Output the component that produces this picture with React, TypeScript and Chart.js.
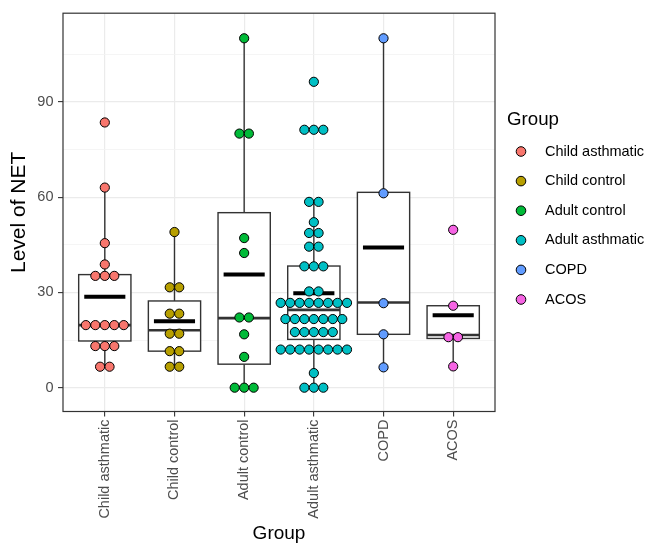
import React, { useEffect, useRef } from 'react';
import { Chart, registerables } from 'chart.js';

Chart.register(...registerables);

const FONT = "'Liberation Sans', Arial, Helvetica, sans-serif";

// Categories and colours
const groups = ['Child asthmatic', 'Child control', 'Adult control', 'Adult asthmatic', 'COPD', 'ACOS'];
const colors = ['#F8766D', '#B79F00', '#00BA38', '#00BFC4', '#619CFF', '#F564E3'];

// Individual observations (level of NET), one list per group
const childAsthmatic = [83.5, 63.0, 45.5, 38.8, 35.2, 35.2, 35.2, 19.7, 19.7, 19.7, 19.7, 19.7, 13.1, 13.1, 13.1, 6.6, 6.6];
const childControl = [49.0, 31.6, 31.6, 23.3, 23.3, 17.0, 17.0, 11.5, 11.5, 6.6, 6.6];
const adultControl = [110, 80, 80, 47.1, 42.4, 22.1, 22.1, 16.8, 9.7, 0, 0, 0];
const adultAsthmatic = [
  96.3, 81.2, 81.2, 81.2, 58.5, 58.5, 52.1, 48.7, 48.7, 44.4, 44.4, 38.2, 38.2, 38.2, 30.3, 30.3,
  26.7, 26.7, 26.7, 26.7, 26.7, 26.7, 26.7, 26.7,
  21.6, 21.6, 21.6, 21.6, 21.6, 21.6, 21.6,
  17.5, 17.5, 17.5, 17.5, 17.5,
  12.0, 12.0, 12.0, 12.0, 12.0, 12.0, 12.0, 12.0,
  4.6, 0, 0, 0,
];
const copd = [110, 61.2, 26.6, 16.8, 6.4];
const acos = [49.7, 25.8, 15.9, 15.9, 6.7];
const groupValues = [childAsthmatic, childControl, adultControl, adultAsthmatic, copd, acos];

// Box-plot summaries
const q1 = [14.7, 11.5, 7.4, 15.2, 16.8, 15.5];
const medians = [19.7, 18.1, 21.9, 24.5, 26.8, 16.6];
const q3 = [35.6, 27.3, 55.1, 38.3, 61.5, 25.8];
const means = [28.6, 20.9, 35.6, 29.7, 44.1, 22.8];
const whiskerLow = [6.6, 6.6, 0, 0, 6.4, 6.7];
const whiskerHigh = [63.0, 49.0, 110, 58.5, 110, 25.8];

// Axis ticks
const yLabelTicks = [0, 30, 60, 90];
const yGridTicks = [0, 15, 30, 45, 60, 75, 90, 105];

const DOT_STEP = 0.136; // horizontal dot spacing (x units)
const BOX_HALF = 0.375;
const MEAN_HALF = 0.295;

function dotPoints(values: number[], center: number) {
  const counts = new Map<number, number>();
  values.forEach((v) => counts.set(v, (counts.get(v) || 0) + 1));
  const seen = new Map<number, number>();
  return values.map((v) => {
    const n = counts.get(v) as number;
    const k = seen.get(v) || 0;
    seen.set(v, k + 1);
    return { x: center + (k - (n - 1) / 2) * DOT_STEP, y: v };
  });
}

const boxPlugin = {
  id: 'boxes',
  beforeDatasetsDraw(chart: any) {
    const { ctx, scales } = chart;
    const x = scales.x;
    const y = scales.y;
    ctx.save();
    groups.forEach((_, i) => {
      const c = i + 1;
      const cx = x.getPixelForValue(c);
      const l = x.getPixelForValue(c - BOX_HALF);
      const r = x.getPixelForValue(c + BOX_HALF);
      const top = y.getPixelForValue(q3[i]);
      const bot = y.getPixelForValue(q1[i]);
      ctx.strokeStyle = '#333333';
      ctx.lineWidth = 1.4;
      ctx.beginPath();
      ctx.moveTo(cx, y.getPixelForValue(whiskerHigh[i]));
      ctx.lineTo(cx, top);
      ctx.moveTo(cx, bot);
      ctx.lineTo(cx, y.getPixelForValue(whiskerLow[i]));
      ctx.stroke();
      ctx.fillStyle = '#ffffff';
      ctx.fillRect(l, top, r - l, bot - top);
      ctx.strokeRect(l, top, r - l, bot - top);
      const my = y.getPixelForValue(medians[i]);
      ctx.lineWidth = 2.6;
      ctx.beginPath();
      ctx.moveTo(l, my);
      ctx.lineTo(r, my);
      ctx.stroke();
      const mean = y.getPixelForValue(means[i]);
      ctx.strokeStyle = '#000000';
      ctx.lineWidth = 4;
      ctx.beginPath();
      ctx.moveTo(x.getPixelForValue(c - MEAN_HALF), mean);
      ctx.lineTo(x.getPixelForValue(c + MEAN_HALF), mean);
      ctx.stroke();
    });
    ctx.restore();
  },
  afterDatasetsDraw(chart: any) {
    const { ctx, chartArea } = chart;
    ctx.save();
    ctx.strokeStyle = '#333333';
    ctx.lineWidth = 1.2;
    ctx.strokeRect(chartArea.left, chartArea.top, chartArea.right - chartArea.left, chartArea.bottom - chartArea.top);
    ctx.restore();
  },
  afterDraw(chart: any) {
    const { ctx, chartArea } = chart;
    const lx = chartArea.right + 12;
    ctx.save();
    ctx.fillStyle = '#000000';
    ctx.font = `18.7px ${FONT}`;
    ctx.textBaseline = 'alphabetic';
    ctx.textAlign = 'left';
    ctx.fillText('Group', lx, 125);
    ctx.font = `14.5px ${FONT}`;
    ctx.textBaseline = 'middle';
    groups.forEach((g, i) => {
      const cy = 151.5 + i * 29.6;
      ctx.beginPath();
      ctx.arc(lx + 14, cy, 4.8, 0, Math.PI * 2);
      ctx.fillStyle = colors[i];
      ctx.fill();
      ctx.lineWidth = 1;
      ctx.strokeStyle = '#000000';
      ctx.stroke();
      ctx.fillStyle = '#000000';
      ctx.fillText(g, lx + 38, cy);
    });
    ctx.restore();
  },
};

export default function App() {
  const ref = useRef<HTMLCanvasElement | null>(null);
  useEffect(() => {
    document.body.style.margin = '0';
    const canvas = ref.current;
    if (!canvas) return;
    Chart.defaults.font.family = FONT;
    const chart = new Chart(canvas, {
      type: 'scatter',
      data: {
        datasets: groups.map((g, i) => ({
          label: g,
          data: dotPoints(groupValues[i], i + 1),
          backgroundColor: colors[i],
          borderColor: '#000000',
          borderWidth: 1,
          pointRadius: 4.6,
          pointHoverRadius: 4.6,
        })),
      },
      options: {
        animation: false,
        responsive: false,
        devicePixelRatio: 1,
        layout: { padding: { top: 10, right: 153, left: 0, bottom: 0 } },
        plugins: { legend: { display: false }, tooltip: { enabled: false } },
        scales: {
          x: {
            type: 'linear',
            min: 0.4,
            max: 6.6,
            afterBuildTicks: (s: any) => {
              s.ticks = groups.map((_, i) => ({ value: i + 1 }));
            },
            afterFit: (s: any) => {
              s.height = 133.5;
            },
            ticks: {
              callback: (v: any) => groups[Math.round(v) - 1] ?? '',
              minRotation: 90,
              maxRotation: 90,
              autoSkip: false,
              font: { size: 14.5, family: FONT },
              color: '#4d4d4d',
              padding: 3,
            },
            grid: { color: '#ebebeb', lineWidth: 1.2, tickLength: 5, tickColor: '#333333', tickWidth: 1.1 },
            border: { display: false },
            title: { display: true, text: 'Group', color: '#000000', font: { size: 19, family: FONT }, padding: { top: 0, bottom: 0 } },
          },
          y: {
            type: 'linear',
            min: -7.5,
            max: 117.9,
            afterBuildTicks: (s: any) => {
              s.ticks = yGridTicks.map((v) => ({ value: v }));
            },
            afterFit: (s: any) => {
              s.width = 63;
            },
            ticks: {
              callback: (v: any) => (yLabelTicks.includes(v) ? String(v) : ''),
              font: { size: 14.5, family: FONT },
              color: '#4d4d4d',
              padding: 4.5,
            },
            grid: {
              color: (c: any) => (c.tick && yLabelTicks.includes(c.tick.value) ? '#ebebeb' : '#f3f3f3'),
              lineWidth: (c: any) => (c.tick && yLabelTicks.includes(c.tick.value) ? 1.2 : 0.8),
              tickLength: 5,
              tickWidth: 1.1,
              tickColor: (c: any) => (c.tick && yLabelTicks.includes(c.tick.value) ? '#333333' : 'rgba(0,0,0,0)'),
            },
            border: { display: false },
            title: { display: true, text: 'Level of NET', color: '#000000', font: { size: 21, family: FONT }, padding: { top: 7, bottom: 0 } },
          },
        },
      },
      plugins: [boxPlugin],
    } as any);
    return () => chart.destroy();
  }, []);
  return (
    <div style={{ width: 648, height: 545, position: 'relative', overflow: 'hidden' }}>
      <canvas ref={ref} width={648} height={545} style={{ display: 'block' }} />
    </div>
  );
}
